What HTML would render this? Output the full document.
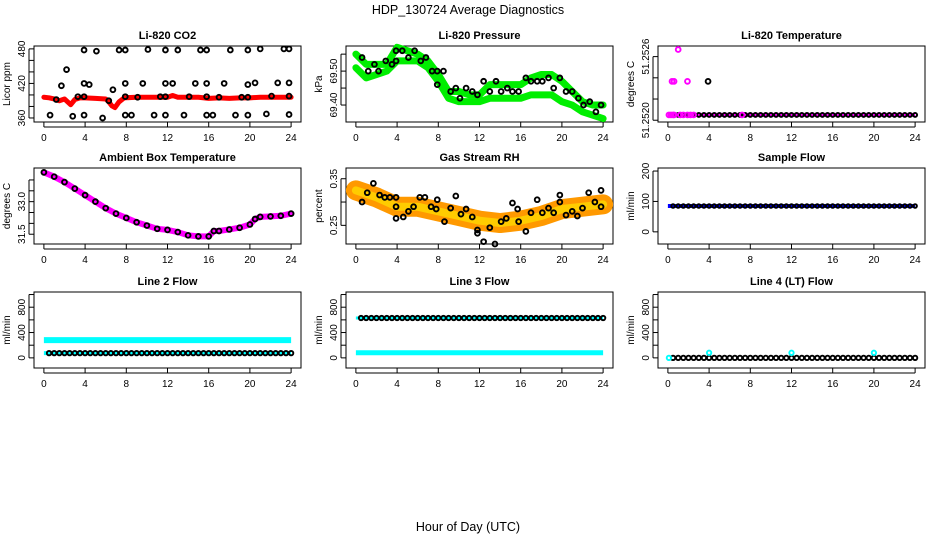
<!DOCTYPE html>
<html><head><meta charset="utf-8"><style>
body{margin:0;background:#fff;}
svg{display:block;font-family:"Liberation Sans",sans-serif;}
</style></head><body>
<svg id="c" width="936" height="540" viewBox="0 0 936 540">
<text x="468" y="14" text-anchor="middle" font-size="12.5">HDP_130724  Average Diagnostics</text>
<text x="468" y="531" text-anchor="middle" font-size="12.5">Hour of Day (UTC)</text>
</svg>
<script>
// ---- data ----
const hours = [0,4,8,12,16,20,24];
const co2BandX = [0,0.5,1,1.5,2,2.3,2.6,3,3.5,4,5,6,6.3,6.6,6.9,7.3,7.8,9,10,11,12,12.5,13,14,15,16,17,18,19,20,21,22,23,24];
const co2BandY = [396,395,393,390,393,388,383,392,395,395,394,393,388,381,378,388,395,396,396,396,396,399,396,396,396,394,395,394,395,395,396,396,396,396];
const co2PtX = [0.6,1.2,1.7,2.2,2.8,3.3,3.9,3.9,3.9,3.9,4.4,5.1,5.7,6.3,6.7,7.3,7.9,7.9,7.9,7.9,8.5,9.1,9.6,10.1,10.7,11.3,11.8,11.8,11.8,11.8,12.5,13,13.6,14.1,14.7,15.2,15.8,15.8,15.8,15.8,16.4,17,17.5,18.1,18.6,19.2,19.8,19.8,19.8,19.8,20.5,21,21.6,22.1,22.7,23.3,23.8,23.8,23.8,23.8];
const co2PtY = [365,392,416,444,363,397,397,365,478,420,418,476,360,390,409,478,478,420,397,365,365,396,420,479,365,397,397,420,478,365,420,478,365,397,420,478,478,420,397,365,365,396,420,478,365,396,365,396,418,478,421,480,367,398,421,480,480,421,398,366];
const presX = [0,1,2,3,4,5,6,7,8,9,10,11,12,13,14,15,16,17,18,19,20,21,22,23,24];
const presHi = [69.55,69.52,69.52,69.52,69.57,69.56,69.55,69.53,69.49,69.44,69.44,69.43,69.43,69.46,69.46,69.46,69.46,69.48,69.49,69.49,69.47,69.44,69.41,69.40,69.40];
const presLo = [69.51,69.48,69.49,69.50,69.53,69.53,69.53,69.51,69.47,69.42,69.41,69.41,69.41,69.42,69.42,69.42,69.42,69.43,69.43,69.43,69.41,69.40,69.38,69.37,69.36];
const presPtX = [0.6,1.2,1.8,2.2,2.9,3.5,3.9,3.9,4.5,5.1,5.7,6.3,6.8,7.4,7.9,7.9,8.5,9.2,9.7,10.1,10.7,11.3,11.8,12.4,13,13.6,14.1,14.7,15.2,15.8,16.5,17,17.6,18.1,18.7,19.2,19.8,20.4,21,21.6,22.1,22.7,23.3,23.8];
const presPtY = [69.54,69.50,69.52,69.50,69.53,69.52,69.56,69.53,69.56,69.54,69.56,69.53,69.54,69.50,69.50,69.46,69.50,69.44,69.45,69.42,69.45,69.44,69.43,69.47,69.44,69.47,69.44,69.45,69.44,69.44,69.48,69.47,69.47,69.47,69.48,69.45,69.48,69.44,69.44,69.42,69.40,69.41,69.38,69.40];
const tempX = [0.1,0.3,0.5,0.6,1.2,1.5,1.9,2.2,2.5,7.2,0.4,0.6,1.9,1.0];
const tempY = [51.25223,51.25223,51.25223,51.25223,51.25223,51.25223,51.25223,51.25223,51.25223,51.25223,51.25242,51.25242,51.25242,51.2526];
const ambX = [0,1,2,3,4,5,6,7,8,9,10,11,12,13,14,15,16,16.5,17,18,19,20,20.5,21,22,23,24];
const ambY = [34.35,34.15,33.9,33.6,33.3,33.0,32.7,32.45,32.25,32.05,31.9,31.75,31.7,31.6,31.45,31.4,31.4,31.65,31.65,31.72,31.8,31.95,32.2,32.3,32.32,32.35,32.45];
const rhX = [0,2,4,6,8,10,12,14,16,18,20,22,24];
const rhY = [0.325,0.31,0.29,0.29,0.28,0.27,0.26,0.255,0.26,0.27,0.285,0.29,0.295];
const rhPtX = [0.6,1.1,1.7,2.3,2.8,3.3,3.9,3.9,3.9,4.6,5.1,5.6,6.2,6.7,7.3,7.8,7.9,8.6,9.2,9.7,10.2,10.7,11.3,11.8,11.8,12.4,13,13.5,14.1,14.6,15.2,15.7,15.8,16.5,17,17.6,18.1,18.7,19.2,19.8,19.8,20.4,21,21.5,22,22.6,23.2,23.8,23.8];
const rhPtY = [0.30,0.32,0.34,0.315,0.31,0.31,0.31,0.29,0.265,0.268,0.28,0.29,0.31,0.31,0.29,0.285,0.305,0.258,0.287,0.313,0.274,0.285,0.268,0.24,0.233,0.215,0.245,0.21,0.258,0.265,0.298,0.285,0.258,0.237,0.277,0.305,0.277,0.287,0.277,0.315,0.3,0.272,0.28,0.27,0.287,0.32,0.3,0.325,0.29];
const sampleFlow = 85;
const line2Hi = 280, line2Lo = 75;
const line3Hi = 630, line3Lo = 80;
const line4Lo = 0, line4Spike = 80;
const spikeX = [0.1,4,12,20];

// ---- layout helpers ----
const svg = document.getElementById('c');
const NS = 'http://www.w3.org/2000/svg';
function el(tag, attrs, parent){const e=document.createElementNS(NS,tag);for(const k in attrs)e.setAttribute(k,attrs[k]);(parent||svg).appendChild(e);return e;}
const cols=[34,346,658], rows=[46,168,292], W=267, H=76;
function panel(ci,ri,title,ylab,ymin,ymax,yticks,ylabels,name){
  const x0=cols[ci], y0=rows[ri];
  const g=el('g',{});
  
  
  const sx=v=>x0+ (v+0.96)/25.92*W;
  const sy=v=>y0+H-(v-ymin)/(ymax-ymin)*H;
  const box=el('rect',{x:x0,y:y0,width:W,height:H,fill:'none',stroke:'#000','stroke-width':1},g);
  
  
  const t=el('text',{x:x0+W/2,y:y0-7,'text-anchor':'middle','font-size':11,'font-weight':'bold'},g);t.textContent=title;
  
  
  hours.forEach(h=>{el('line',{x1:sx(h),x2:sx(h),y1:y0+H,y2:y0+H+5,stroke:'#000'},g);
    const tl=el('text',{x:sx(h),y:y0+H+19,'text-anchor':'middle','font-size':10},g);tl.textContent=h;
    
    });
  el('line',{x1:sx(0),x2:sx(24),y1:y0+H+5,y2:y0+H+5,stroke:'#000'},g);
  yticks.forEach(v=>el('line',{x1:x0-5,x2:x0,y1:sy(v),y2:sy(v),stroke:'#000'},g));
  el('line',{x1:x0-5,x2:x0-5,y1:sy(yticks[0]),y2:sy(yticks[yticks.length-1]),stroke:'#000'},g);
  ylabels.forEach(([v,s])=>{const yy=sy(v);const tl=el('text',{x:x0-9,y:yy,'text-anchor':'middle','font-size':10,transform:`rotate(-90 ${x0-9} ${yy})`},g);tl.textContent=s;
    
    });
  const yl=el('text',{x:x0-24,y:y0+H/2,'text-anchor':'middle','font-size':10,transform:`rotate(-90 ${x0-24} ${y0+H/2})`},g);yl.textContent=ylab;
  
  
  return {g,sx,sy};
}
function band(p,xs,ys,color,w){el('polyline',{points:xs.map((x,i)=>p.sx(x)+','+p.sy(ys[i])).join(' '),fill:'none',stroke:color,'stroke-width':w,'stroke-linejoin':'round','stroke-linecap':'round'},p.g);}
function pts(p,xs,ys,color,r){xs.forEach((x,i)=>{const c=el('circle',{cx:p.sx(x),cy:p.sy(ys[i]),r:r||2.4,fill:'none',stroke:color,'stroke-width':1.9},p.g);
  
  });}
function hline(p,v,color,w,x1,x2){el('line',{x1:p.sx(x1),x2:p.sx(x2),y1:p.sy(v),y2:p.sy(v),stroke:color,'stroke-width':w},p.g);}
const halfHours=[];for(let h=0.5;h<=24;h+=0.5)halfHours.push(h);

// Panel 1: CO2
let p=panel(0,0,'Li-820 CO2','Licor ppm',353,485,[360,380,400,420,440,460,480],[[360,'360'],[420,'420'],[480,'480']],'co2');
band(p,co2BandX,co2BandY,'#f00',5);
pts(p,co2PtX,co2PtY,'#000');

// Panel 2: pressure
p=panel(1,0,'Li-820 Pressure','kPa',69.35,69.574,[69.40,69.45,69.50,69.55],[[69.40,'69.40'],[69.50,'69.50']],'pressure');
band(p,presX,presHi,'#0e0',7);band(p,presX,presLo,'#0e0',7);
pts(p,presPtX,presPtY,'#000');

// Panel 3: temperature
p=panel(2,0,'Li-820 Temperature','degrees C',51.25219,51.25262,[51.2522,51.25232,51.25244,51.25256],[[51.2522,'51.2520'],[51.25256,'51.2526']],'li820-temp');
hline(p,51.25223,'#f0f',4,0,24);
pts(p,halfHours,halfHours.map(()=>51.25223),'#000',2);
pts(p,tempX,tempY,'#f0f');
pts(p,[3.9],[51.25242],'#000');

// Panel 4: ambient
p=panel(0,1,'Ambient Box Temperature','degrees C',31.05,34.55,[31.5,32,32.5,33,33.5,34],[[31.5,'31.5'],[33.0,'33.0']],'ambient-temp');
band(p,ambX,ambY,'#f0f',6);
pts(p,ambX,ambY,'#000');

// Panel 5: RH
p=panel(1,1,'Gas Stream RH','percent',0.21,0.373,[0.25,0.30,0.35],[[0.25,'0.25'],[0.35,'0.35']],'rh');
band(p,rhX,rhY,'#f90',20);
band(p,rhX,rhY,'#fc0',8);
pts(p,rhPtX,rhPtY,'#000');

// Panel 6: sample flow
p=panel(2,1,'Sample Flow','ml/min',-40,210,[0,100,200],[[0,'0'],[100,'100'],[200,'200']],'sample-flow');
hline(p,sampleFlow,'#00f',4,0,24);
pts(p,halfHours,halfHours.map(()=>sampleFlow),'#000',1.8);

// Panel 7: line 2
p=panel(0,2,'Line 2 Flow','ml/min',-160,1040,[0,200,400,600,800,1000],[[0,'0'],[400,'400'],[800,'800']],'line2-flow');
hline(p,line2Hi,'#0ff',6,0,24);hline(p,line2Lo,'#0ff',4,0,24);
pts(p,halfHours,halfHours.map(()=>line2Lo),'#000',2.2);

// Panel 8: line 3
p=panel(1,2,'Line 3 Flow','ml/min',-160,1040,[0,200,400,600,800,1000],[[0,'0'],[400,'400'],[800,'800']],'line3-flow');
hline(p,line3Lo,'#0ff',5,0,24);hline(p,line3Hi,'#0ff',3,0,24);
pts(p,halfHours,halfHours.map(()=>line3Hi),'#000',2.2);

// Panel 9: line 4
p=panel(2,2,'Line 4 (LT) Flow','ml/min',-160,1040,[0,200,400,600,800,1000],[[0,'0'],[400,'400'],[800,'800']],'line4-flow');
pts(p,halfHours,halfHours.map(()=>line4Lo),'#000',2.2);
pts(p,spikeX,spikeX.map((x,i)=>i===0?line4Lo:line4Spike),'#0ff',2.2);
</script>
</body></html>
